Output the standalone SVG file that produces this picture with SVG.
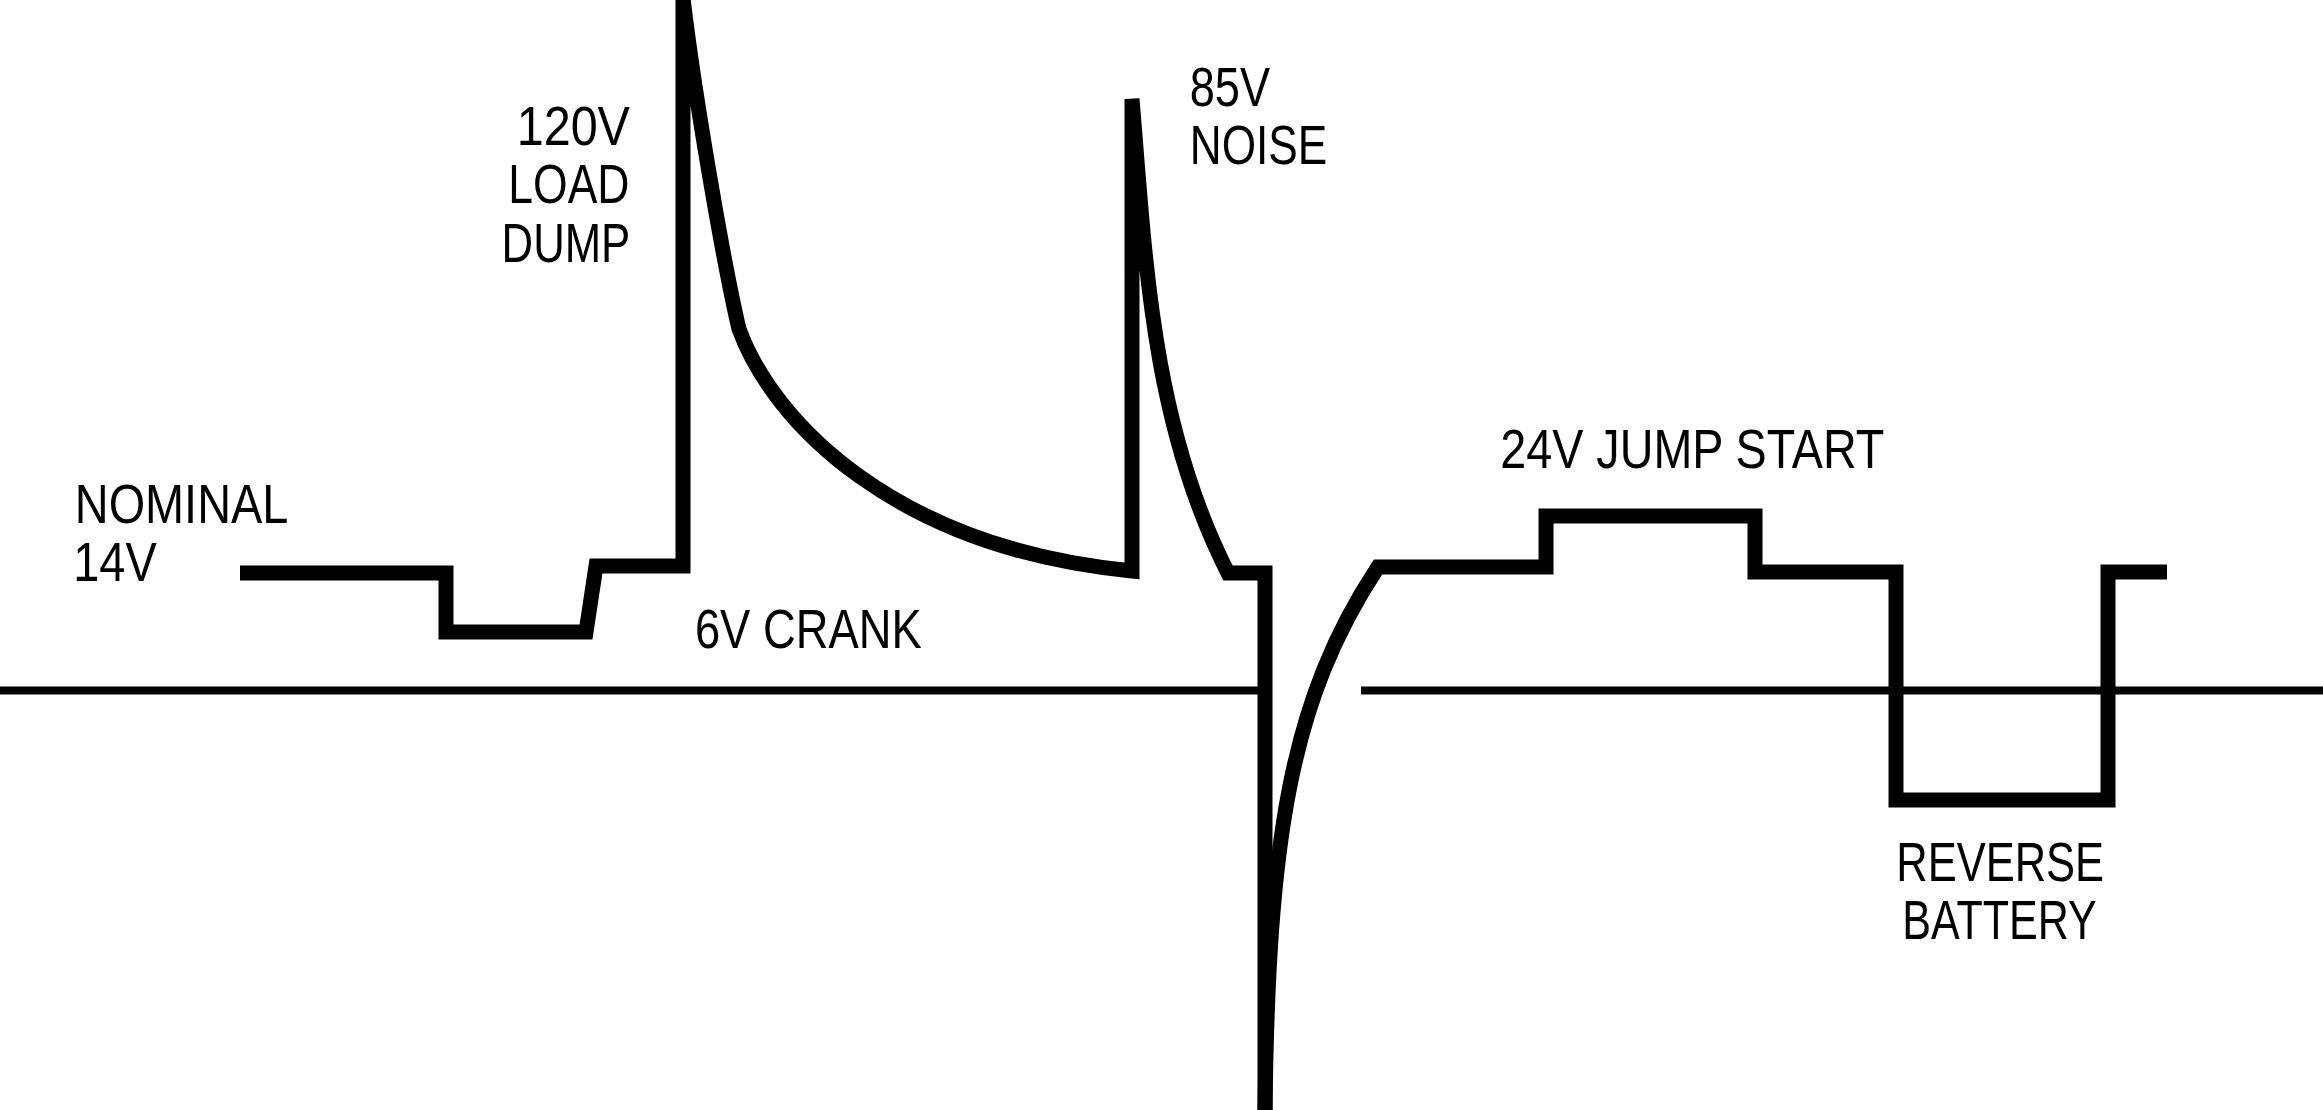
<svg xmlns="http://www.w3.org/2000/svg" width="2323" height="1110" viewBox="0 0 2323 1110">
<style>
.bg{fill:#ffffff}
.axis{fill:none;stroke:#000;stroke-width:8;stroke-linecap:butt}
.wave{fill:none;stroke:#000;stroke-width:15;stroke-linejoin:miter;stroke-miterlimit:4;stroke-linecap:butt}
.lbl{font-family:"Liberation Sans Narrow","Liberation Sans",Arial,sans-serif;font-size:56px;fill:#000}
</style>
<rect class="bg" x="0" y="0" width="2323" height="1110"/>
<g id="axis">
<line class="axis" x1="0" y1="690.5" x2="1265" y2="690.5"/>
<line class="axis" x1="1361" y1="690.5" x2="2323" y2="690.5"/>
</g>
<g id="waveform">
<path class="wave" d="M240,573 H446 V632 H586 L596,566 H683 V-2 C695,100 725,270 739,329 C773,422 895,548 1132,571 V99 C1145,250 1150,420 1228,573 H1265 V1115"/>
<path class="wave" d="M1265,1112 C1268,840 1290,700 1378,567 H1546 V516 H1755 V572 H1896 V800 H2108 V572 H2167"/>
</g>
<g id="label-nominal">
<text class="lbl"><tspan x="74.8" y="523" textLength="213.5" lengthAdjust="spacingAndGlyphs">NOMINAL</tspan><tspan x="73.3" y="580.5" textLength="83.4" lengthAdjust="spacingAndGlyphs">14V</tspan></text>
</g>
<g id="label-loaddump">
<text class="lbl"><tspan x="516.7" y="145" textLength="113.3" lengthAdjust="spacingAndGlyphs">120V</tspan><tspan x="508.3" y="203.3" textLength="121.2" lengthAdjust="spacingAndGlyphs">LOAD</tspan><tspan x="501.6" y="261.7" textLength="128.6" lengthAdjust="spacingAndGlyphs">DUMP</tspan></text>
</g>
<g id="label-crank">
<text class="lbl" x="694.9" y="648.3" textLength="226.8" lengthAdjust="spacingAndGlyphs">6V CRANK</text>
</g>
<g id="label-noise">
<text class="lbl"><tspan x="1189.7" y="106.3" textLength="80.3" lengthAdjust="spacingAndGlyphs">85V</tspan><tspan x="1189.8" y="164" textLength="137.5" lengthAdjust="spacingAndGlyphs">NOISE</tspan></text>
</g>
<g id="label-jumpstart">
<text class="lbl" x="1500.3" y="468.3" textLength="384" lengthAdjust="spacingAndGlyphs">24V JUMP START</text>
</g>
<g id="label-reverse">
<text class="lbl"><tspan x="1896.3" y="881.3" textLength="207.7" lengthAdjust="spacingAndGlyphs">REVERSE</tspan><tspan x="1902.3" y="939" textLength="194.4" lengthAdjust="spacingAndGlyphs">BATTERY</tspan></text>
</g>
</svg>
